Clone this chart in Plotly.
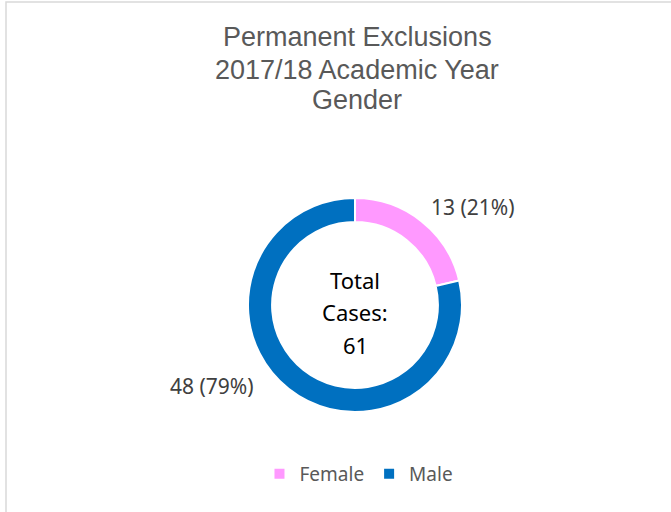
import plotly.graph_objects as go

categories = ["Female", "Male"]
values = [13, 48]
colors = ["#FF99FF", "#0070C0"]
title_lines = ["Permanent Exclusions", "2017/18 Academic Year", "Gender"]

W, H = 671, 512
total = sum(values)
pcts = [round(v / total * 100) for v in values]
label_texts = [f"{v} ({p}%)" for v, p in zip(values, pcts)]
centre_lines = ["Total", "Cases:", str(total)]

cx, cy, R = 355, 305, 107  # donut centre / radius in pixels (from top)

fig = go.Figure()
fig.add_trace(go.Pie(
    labels=categories,
    values=values,
    sort=False,
    direction="clockwise",
    rotation=0,
    hole=0.775,
    marker=dict(colors=colors, line=dict(color="white", width=2)),
    textinfo="none",
    hoverinfo="label+value+percent",
    domain=dict(x=[(cx - R) / W, (cx + R) / W], y=[(H - cy - R) / H, (H - cy + R) / H]),
))

# title lines
title_y = [37, 70, 100]
for txt, py in zip(title_lines, title_y):
    fig.add_annotation(x=357 / W, y=(H - py) / H, xref="paper", yref="paper",
                       text=txt, showarrow=False, xanchor="center", yanchor="middle",
                       font=dict(family="Liberation Sans", size=27, color="#595959"))

# data labels
label_pos = [(473, 207), (212, 386)]
for txt, (px, py) in zip(label_texts, label_pos):
    fig.add_annotation(x=px / W, y=(H - py) / H, xref="paper", yref="paper",
                       text=txt, showarrow=False, xanchor="center", yanchor="middle",
                       font=dict(family="Noto Sans", size=21, color="#404040"))

# centre text
centre_y = [280, 312, 345]
for txt, py in zip(centre_lines, centre_y):
    fig.add_annotation(x=cx / W, y=(H - py) / H, xref="paper", yref="paper",
                       text=txt, showarrow=False, xanchor="center", yanchor="middle",
                       font=dict(family="Noto Sans", size=22, color="#000000"))

# chart border
fig.add_shape(type="rect", xref="paper", yref="paper",
              x0=6 / W, x1=1.05, y0=-0.05, y1=(H - 2) / H,
              line=dict(color="#D9D9D9", width=1.5), fillcolor="rgba(0,0,0,0)")

fig.update_layout(
    width=W, height=H,
    margin=dict(l=0, r=0, t=0, b=0, autoexpand=False),
    paper_bgcolor="white",
    plot_bgcolor="white",
    showlegend=True,
    legend=dict(orientation="h", x=0.535, xanchor="center", y=(H - 474) / H, yanchor="middle",
                font=dict(family="Noto Sans", size=19, color="#595959"),
                traceorder="normal", itemwidth=30),
)

fig.write_html("out.html", config={"displayModeBar": False},
               post_script="document.body.style.margin='0';")
